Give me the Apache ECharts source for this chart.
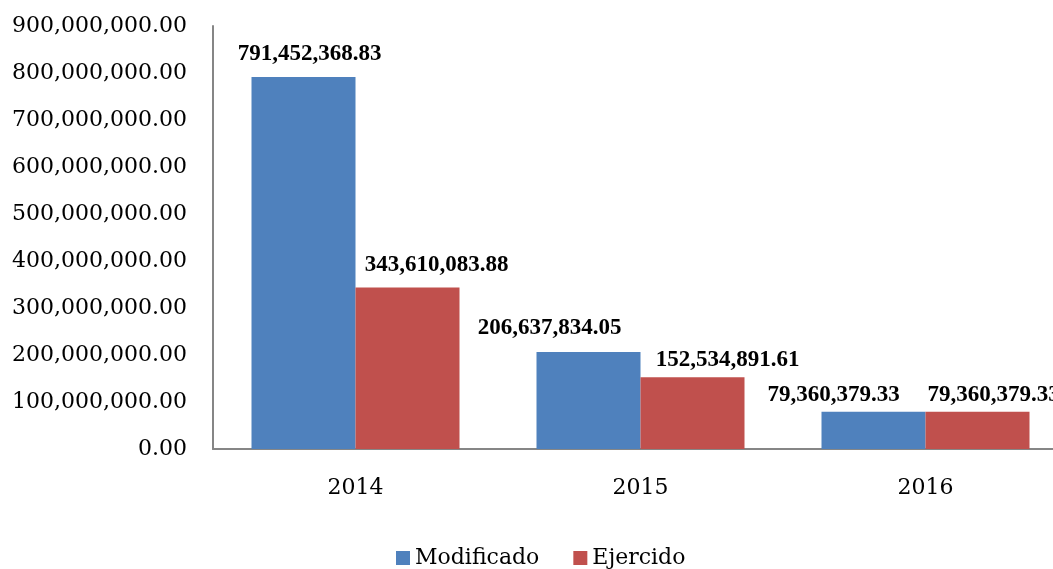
<!DOCTYPE html>
<html>
<head>
<meta charset="utf-8">
<script src="https://cdn.jsdelivr.net/npm/echarts@6/dist/echarts.min.js"></script>
<style>
  html, body { margin: 0; padding: 0; background: #fff; }
  #chart { width: 1053px; height: 569px; }
</style>
</head>
<body>
<div id="chart"></div>
<script>
const years = ['2014', '2015', '2016']
const modificado = [791452368.83, 206637834.05, 79360379.33]
const ejercido = [343610083.88, 152534891.61, 79360379.33]

// label nudges, as in the original Excel layout
const shiftModificado = [[6, -5], [-39, -6], [-40, 1]]
const shiftEjercido = [[29, -4], [35, 1], [16, 1]]

const font = 'DejaVu Serif'

function money(v) {
  const parts = Number(v).toFixed(2).split('.')
  parts[0] = parts[0].replace(/\B(?=(\d{3})+(?!\d))/g, ',')
  return parts.join('.')
}

function withLabels(values, shifts) {
  return values.map((v, i) => ({
    value: v,
    label: { offset: shifts[i] }
  }))
}

const barLabel = {
  show: true,
  position: 'top',
  distance: 5,
  color: '#000',
  fontFamily: 'Liberation Serif',
  fontWeight: 'bold',
  fontSize: 23,
  lineHeight: 26,
  formatter: p => money(p.value)
}

const chart = echarts.init(document.getElementById('chart'))
chart.setOption({
  animation: false,
  textStyle: { fontFamily: font },
  grid: {
    left: 213,
    top: 26,
    bottom: 120,
    width: 855,
    containLabel: false,
    outerBoundsMode: 'none'
  },
  legend: {
    left: 391,
    top: 542,
    icon: 'rect',
    itemWidth: 14,
    itemHeight: 14,
    itemGap: 34,
    textStyle: { fontFamily: font, fontSize: 22, color: '#000' },
    data: ['Modificado', 'Ejercido']
  },
  xAxis: {
    type: 'category',
    data: years,
    axisLine: { lineStyle: { color: '#868686', width: 2 } },
    axisTick: { show: false },
    axisLabel: { color: '#000', fontFamily: font, fontSize: 22, margin: 28 }
  },
  yAxis: {
    type: 'value',
    min: 0,
    max: 900000000,
    interval: 100000000,
    splitLine: { show: false },
    axisLine: { show: true, lineStyle: { color: '#868686', width: 2 } },
    axisTick: { show: false },
    axisLabel: {
      color: '#000',
      fontFamily: font,
      fontSize: 22,
      margin: 26,
      formatter: v => money(v)
    }
  },
  series: [
    {
      name: 'Modificado',
      type: 'bar',
      barWidth: 104,
      barGap: '0%',
      itemStyle: { color: '#4F81BD' },
      label: barLabel,
      data: withLabels(modificado, shiftModificado)
    },
    {
      name: 'Ejercido',
      type: 'bar',
      barWidth: 104,
      barGap: '0%',
      itemStyle: { color: '#C0504D' },
      label: barLabel,
      data: withLabels(ejercido, shiftEjercido)
    }
  ]
})
</script>
</body>
</html>
